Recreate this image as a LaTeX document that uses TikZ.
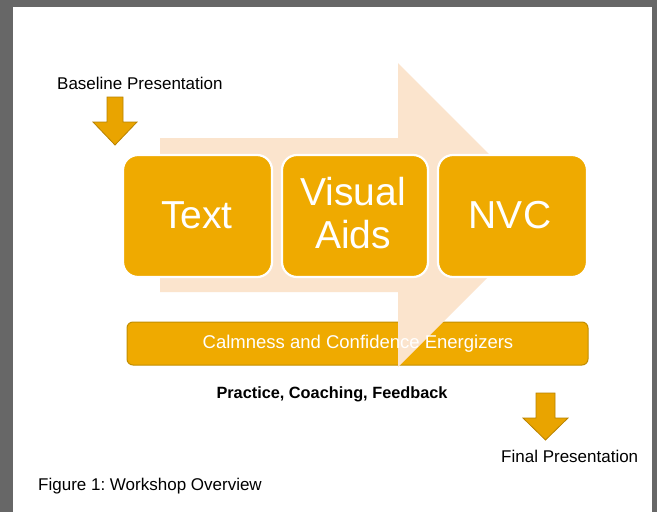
\documentclass[tikz,border=0pt]{standalone}
\usepackage{fontspec}
\setmainfont{Liberation Sans}
\frenchspacing
\definecolor{framegray}{HTML}{676767}
\definecolor{boxorange}{HTML}{EFAA00}
\definecolor{peach}{HTML}{FBE4CD}
\definecolor{arroworange}{HTML}{E9A400}
\definecolor{arrowedge}{HTML}{B88200}
\definecolor{baredge}{HTML}{C28E00}
\tikzset{
  stepbox/.style={fill=boxorange, draw=white, line width=2.2pt, rounded corners=15pt},
  bigtext/.style={text=white, font=\fontsize{39}{43}\selectfont, inner sep=0pt, anchor=base},
  smalltext/.style={text=black, font=\fontsize{17}{20}\selectfont, inner sep=0pt},
  downarrow/.style={fill=arroworange, draw=arrowedge, line width=0.8pt, line join=miter},
}
\begin{document}
\begin{tikzpicture}[x=1pt,y=-1pt]
\useasboundingbox (0,0) rectangle (657,512);
% frame
\fill[framegray] (0,0) rectangle (657,512);
\fill[white] (13,7) rectangle (652,512);
% bar (under the big arrow)
\draw[fill=boxorange, draw=baredge, line width=1pt, rounded corners=6pt] (127,322) rectangle (588,365);
% big background arrow
\fill[peach] (160,138) -- (398,138) -- (398,63) -- (550,215) -- (398,367) -- (398,292) -- (160,292) -- cycle;
% boxes
\draw[stepbox] (123,155) rectangle (272,277);
\draw[stepbox] (282,155) rectangle (428,277);
\draw[stepbox] (438,155) rectangle (587,277);
\node[bigtext] (text) at (197,228) {Text};
\node[bigtext] (visual) at (353,205) {Visual};
\node[bigtext] (aids) at (353,248) {Aids};
\node[bigtext] (nvc) at (510,228) {NVC};
% bar text
\node[text=white, font=\fontsize{18.5}{20}\selectfont, inner sep=0pt, anchor=base] (bar) at (358,348) {Calmness and Confidence Energizers};
% labels
\node[smalltext, anchor=base west] (base) at (57,89) {Baseline Presentation};
\node[smalltext, anchor=base, font=\bfseries\fontsize{16.3}{20}\selectfont] (pcf) at (332,398) {Practice, Coaching, Feedback};
\node[smalltext, anchor=base west] (final) at (501,462) {Final Presentation};
\node[smalltext, anchor=base west] (fig) at (38,490) {Figure 1: Workshop Overview};
% small arrows
\draw[downarrow] (107,97) -- (123,97) -- (123,122) -- (137,122) -- (115,145) -- (93,122) -- (107,122) -- cycle;
\draw[downarrow] (536,393) -- (555,393) -- (555,418) -- (568,418) -- (545.5,440) -- (523,418) -- (536,418) -- cycle;
\end{tikzpicture}
\end{document}
